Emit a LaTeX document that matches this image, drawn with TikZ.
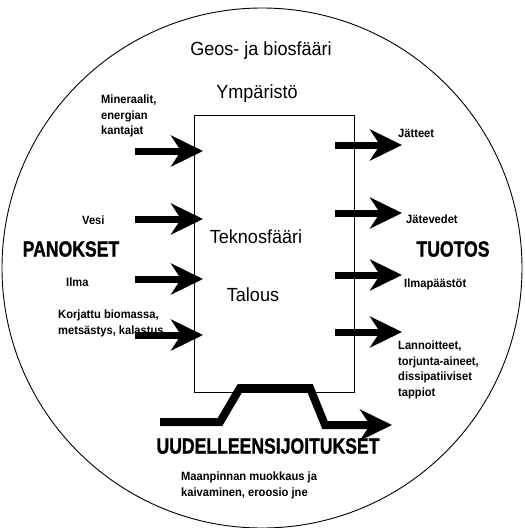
\documentclass[tikz,border=0pt]{standalone}
\usepackage{fontspec}
\setmainfont{Liberation Sans}
\newfontfamily\titlefont{Liberation Sans}[FakeStretch=0.95]
\newfontfamily\smallfont{Liberation Sans}[FakeStretch=0.93]
\newfontfamily\bigfont{Liberation Sans}[FakeStretch=0.8, FakeBold=1.2]
\usetikzlibrary{arrows.meta}
\tikzset{
  flow/.style={line width=7pt, -{Stealth[length=32pt,width=31pt,inset=10pt]}},
  bigflow/.style={line width=8pt, line join=miter, -{Stealth[length=32pt,width=31pt,inset=10pt]}},
  title/.style={font=\titlefont\fontsize{19}{22}\selectfont, inner sep=0pt},
  small/.style={font=\smallfont\bfseries\fontsize{12}{15.5}\selectfont, inner sep=0pt, align=left},
  big/.style={font=\bigfont\bfseries\fontsize{22}{24}\selectfont, inner sep=0pt},
}
\begin{document}
\begin{tikzpicture}[x=1pt,y=-1pt]
\useasboundingbox (0,0) rectangle (525,528);
\node[circle, draw, line width=0.9pt, minimum size=520pt, inner sep=0pt] (world) at (262,268) {};
\node[draw, line width=0.8pt, minimum width=160pt, minimum height=277pt, inner sep=0pt] (tekno) at (274,253.5) {};

\node[title] (geos) at (261,51) {Geos- ja biosfääri};
\node[title] (ymp) at (257,94) {Ympäristö};
\node[title] (tek) at (256,237) {Teknosfääri};
\node[title] (tal) at (253,295) {Talous};

\node[big] (panok) at (71,249) {PANOKSET};
\node[big] (tuot) at (453,249) {TUOTOS};
\node[big] (uud) at (268,446) {UUDELLEENSIJOITUKSET};

\node[small, anchor=north west] (min) at (101,95) {Mineraalit,\\energian\\kantajat};
\node[small, anchor=west] (vesi) at (82,220) {Vesi};
\node[small, anchor=west] (ilma) at (66,282) {Ilma};
\node[small, anchor=north west] (korj) at (58,310) {Korjattu biomassa,\\metsästys, kalastus};

\node[small, anchor=west] (jat) at (398,133) {Jätteet};
\node[small, anchor=west] (jatv) at (406,219) {Jätevedet};
\node[small, anchor=west] (ilmap) at (404,284) {Ilmapäästöt};
\node[small, anchor=north west] (lann) at (398,341) {Lannoitteet,\\torjunta-aineet,\\dissipatiiviset\\tappiot};
\node[small, anchor=north west] (maan) at (181,472) {Maanpinnan muokkaus ja\\kaivaminen, eroosio jne};

\coordinate (a1) at (135,151); \coordinate (b1) at (203,151);
\coordinate (a2) at (135,219); \coordinate (b2) at (203,219);
\coordinate (a3) at (135,279); \coordinate (b3) at (203,279);
\coordinate (a4) at (135,335); \coordinate (b4) at (203,335);
\draw[flow] (a1) -- (b1);
\draw[flow] (a2) -- (b2);
\draw[flow] (a3) -- (b3);
\draw[flow] (a4) -- (b4);

\coordinate (c1) at (335,145); \coordinate (d1) at (402,145);
\coordinate (c2) at (335,213); \coordinate (d2) at (402,213);
\coordinate (c3) at (335,275); \coordinate (d3) at (402,275);
\coordinate (c4) at (335,332); \coordinate (d4) at (402,332);
\draw[flow] (c1) -- (d1);
\draw[flow] (c2) -- (d2);
\draw[flow] (c3) -- (d3);
\draw[flow] (c4) -- (d4);

\coordinate (r0) at (160,422);
\coordinate (r1) at (220,422);
\coordinate (r2) at (240,388);
\coordinate (r3) at (310,388);
\coordinate (r4) at (325,425);
\coordinate (r5) at (392,425);
\draw[bigflow] (r0) -- (r1) -- (r2) -- (r3) -- (r4) -- (r5);
\end{tikzpicture}
\end{document}
